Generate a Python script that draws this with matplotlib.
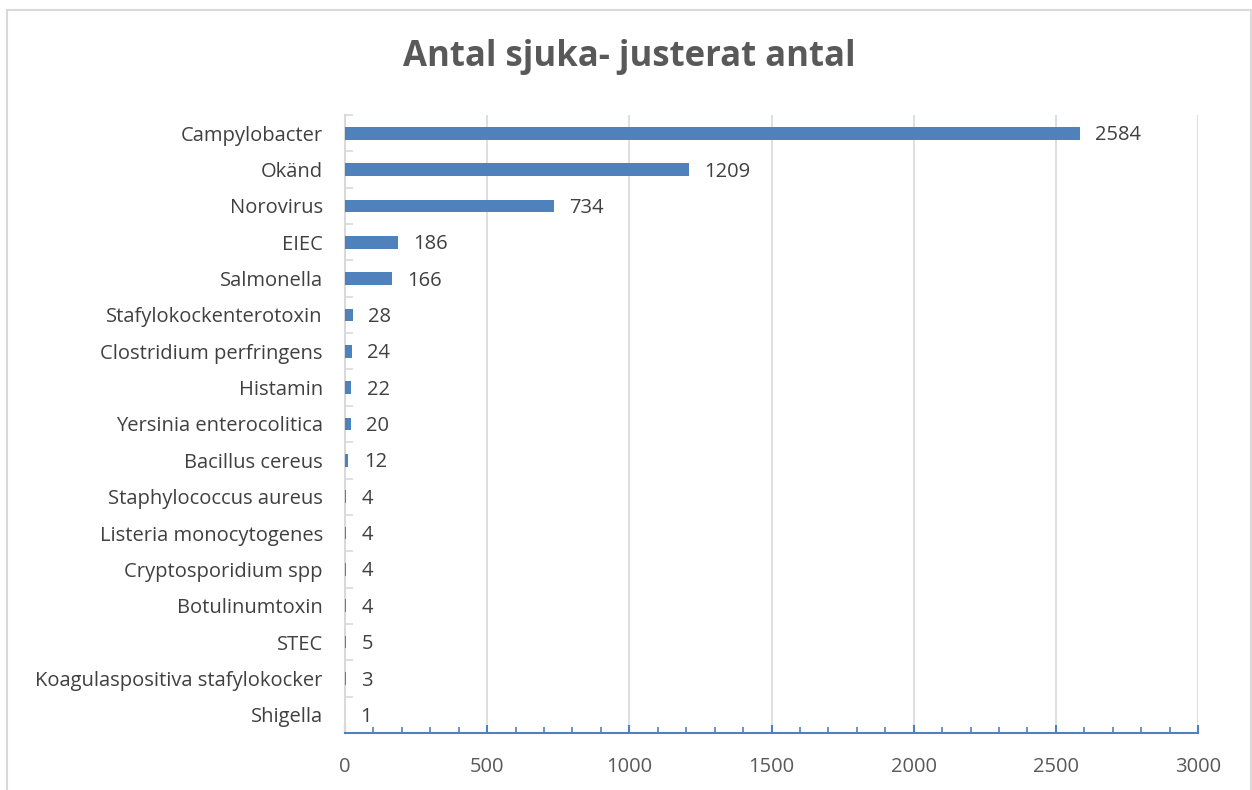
import matplotlib
matplotlib.use("Agg")
import matplotlib.pyplot as plt
from matplotlib.patches import Rectangle
from matplotlib.ticker import MultipleLocator

categories = ["Campylobacter", "Okänd", "Norovirus", "EIEC", "Salmonella",
              "Stafylokockenterotoxin", "Clostridium perfringens", "Histamin",
              "Yersinia enterocolitica", "Bacillus cereus", "Staphylococcus aureus",
              "Listeria monocytogenes", "Cryptosporidium spp", "Botulinumtoxin",
              "STEC", "Koagulaspositiva stafylokocker", "Shigella"]
values = [2584, 1209, 734, 186, 166, 28, 24, 22, 20, 12, 4, 4, 4, 4, 5, 3, 1]
title = "Antal sjuka- justerat antal"
xticks = [0, 500, 1000, 1500, 2000, 2500, 3000]

plt.rcParams['font.family'] = ['Open Sans', 'DejaVu Sans']
W, H = 1252, 790
fig = plt.figure(figsize=(W / 100, H / 100), dpi=100)
fig.patch.set_facecolor("white")

# outer chart border
fig.add_artist(Rectangle((7 / W, -0.05), (1251 - 7) / W, 1 - 10 / H + 0.05,
                         transform=fig.transFigure, fill=False,
                         edgecolor="#D9D9D9", linewidth=1.5))

ax = fig.add_axes([345 / W, 1 - 733 / H, (1198 - 345) / W, (733 - 115) / H])
n = len(categories)
ypos = list(range(n))
bar_color = "#4F81BD"
ax.barh(ypos, values, height=0.35, color=bar_color, zorder=3)
ax.set_ylim(n - 0.5, -0.5)
ax.set_xlim(0, 3000)

ax.set_yticks(ypos)
ax.set_yticklabels(categories, fontsize=14.5, color="#404040")
ax.set_xticks(xticks)
ax.set_xticklabels([str(t) for t in xticks], fontsize=14.5, color="#595959")
ax.xaxis.set_minor_locator(MultipleLocator(100))

ax.tick_params(axis="x", which="major", direction="in", length=6, width=1.5,
               color=bar_color, pad=17)
ax.tick_params(axis="x", which="minor", direction="in", length=4, width=1.2,
               color=bar_color)
ax.tick_params(axis="y", which="major", length=0, pad=16)

# y-axis category boundary ticks
ax.set_yticks([i - 0.5 for i in range(n + 1)], minor=True)
ax.tick_params(axis="y", which="minor", direction="in", length=6, width=1.2,
               color="#D9D9D9")

for s in ["top", "right"]:
    ax.spines[s].set_visible(False)
ax.spines["left"].set_color("#D9D9D9")
ax.spines["left"].set_linewidth(1.5)
ax.spines["bottom"].set_color(bar_color)
ax.spines["bottom"].set_linewidth(1.5)
ax.spines["bottom"].set_zorder(5)

ax.grid(axis="x", which="major", color="#D9D9D9", linewidth=1.2, zorder=0)
ax.set_axisbelow(True)

for y, v in zip(ypos, values):
    ax.annotate(str(v), xy=(v, y), xytext=(11, -1.5), textcoords="offset points",
                ha="left", va="center", fontsize=14.5, color="#404040")

fig.text(629 / W, 1 - 57 / H, title, ha="center", va="center",
         fontsize=25, fontweight="bold", color="#595959")

fig.savefig("out.png", dpi=100, facecolor="white")
